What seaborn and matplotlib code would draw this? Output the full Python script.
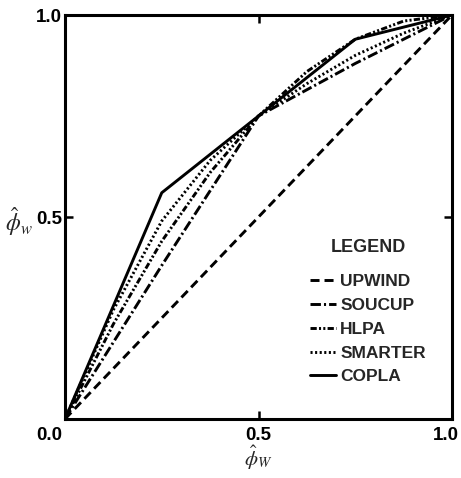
import numpy as np
import pandas as pd
import matplotlib
matplotlib.use("Agg")
import matplotlib.pyplot as plt
import matplotlib.transforms as mtransforms
import seaborn as sns

# Normalized face value against normalized upwind-node value for five schemes
upwind_x = [0.0, 1.0]
upwind_y = [0.0, 1.0]

soucup_x = [0.0, 0.25, 0.5, 0.75, 1.0]
soucup_y = [0.0, 0.38, 0.75, 0.88, 1.0]

hlpa_x = [0.0, 0.125, 0.25, 0.375, 0.5, 0.625, 0.75, 0.875, 1.0]
hlpa_y = [0.0, 0.235, 0.44, 0.61, 0.75, 0.86, 0.94, 0.985, 1.0]

smarter_x = [0.0, 0.125, 0.25, 0.375, 0.5, 0.625, 0.75, 0.875, 1.0]
smarter_y = [0.0, 0.27, 0.49, 0.64, 0.75, 0.83, 0.90, 0.955, 1.0]

copla_x = [0.0, 0.25, 0.5, 0.75, 1.0]
copla_y = [0.0, 0.56, 0.75, 0.94, 1.0]

scheme_names = ["UPWIND", "SOUCUP", "HLPA", "SMARTER", "COPLA"]
xtick_vals = [0.0, 0.5, 1.0]
xtick_labels = ["0.0", "0.5", "1.0"]
ytick_vals = [0.0, 0.5, 1.0]
ytick_labels = ["", "0.5", "1.0"]

sns.set_theme(style="white")
plt.rcParams["font.family"] = ["Liberation Sans", "DejaVu Sans"]
plt.rcParams["mathtext.fontset"] = "stix"
plt.rcParams["lines.scale_dashes"] = False

series = {
    "UPWIND": (upwind_x, upwind_y),
    "SOUCUP": (soucup_x, soucup_y),
    "HLPA": (hlpa_x, hlpa_y),
    "SMARTER": (smarter_x, smarter_y),
    "COPLA": (copla_x, copla_y),
}
styles = {
    "UPWIND": (0, (6.5, 3.6)),
    "SOUCUP": (0, (7.5, 2.2, 1.5, 2.2)),
    "HLPA": (0, (4.5, 1.6, 1.5, 1.6, 1.5, 1.6)),
    "SMARTER": (0, (1.5, 1.8)),
    "COPLA": "solid",
}

fig = plt.figure(figsize=(4.61, 4.78), dpi=100)
ax = fig.add_axes([65 / 461, 1 - 419 / 478, 387 / 461, 404 / 478])

for name in scheme_names:
    xs, ys = series[name]
    df = pd.DataFrame({"x": xs, "y": ys})
    sns.lineplot(data=df, x="x", y="y", ax=ax, color="black", lw=2.1,
                 linestyle=styles[name], label=name, estimator=None,
                 sort=False)

ax.set_xlim(0, 1)
ax.set_ylim(0, 1)
ax.set_xticks(xtick_vals)
ax.set_xticklabels(xtick_labels)
ax.set_yticks(ytick_vals)
ax.set_yticklabels(ytick_labels)
ax.tick_params(axis="both", which="both", direction="in", length=6, width=1.8,
               top=True, right=True, bottom=True, left=True, colors="black",
               labelsize=13.5)
ax.tick_params(axis="x", pad=6)
ax.tick_params(axis="y", pad=2)
for lab in ax.get_xticklabels() + ax.get_yticklabels():
    lab.set_fontweight("bold")

xt = ax.get_xticklabels()
xt[0].set_horizontalalignment("right")
xt[0].set_transform(xt[0].get_transform() +
                    mtransforms.ScaledTranslation(-3 / 100, 0, fig.dpi_scale_trans))
xt[2].set_horizontalalignment("right")
xt[2].set_transform(xt[2].get_transform() +
                    mtransforms.ScaledTranslation(7 / 100, 0, fig.dpi_scale_trans))

for sp in ax.spines.values():
    sp.set_visible(True)
    sp.set_color("black")
    sp.set_linewidth(2.2)

ax.set_xlabel(r"$\hat{\phi}_W$", fontsize=15, labelpad=0)
ax.set_ylabel(r"$\hat{\phi}_w$", fontsize=17, rotation=0, ha="right", va="center")
ax.yaxis.set_label_coords(-0.082, 0.49)

leg = ax.legend(title="LEGEND", loc="upper left", bbox_to_anchor=(0.615, 0.463),
                frameon=False, fontsize=12.5, title_fontsize=13,
                handlelength=1.5, handletextpad=0.25, labelspacing=0.5,
                borderaxespad=0.0)
for t in leg.get_texts():
    t.set_fontweight("bold")
leg.get_title().set_fontweight("bold")
leg._legend_box.sep = 13

fig.savefig("out.png", dpi=100, facecolor="white")
